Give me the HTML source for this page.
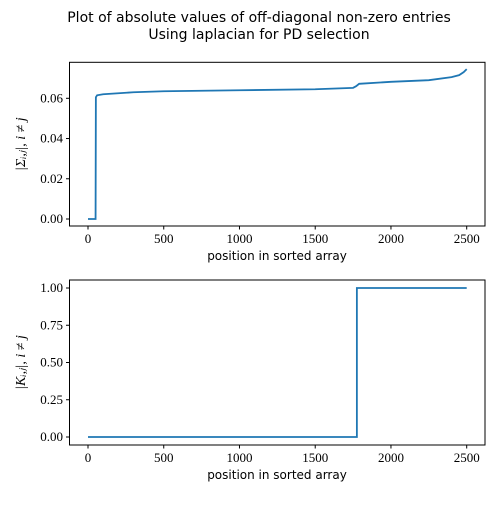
<!DOCTYPE html>
<html><head><meta charset="utf-8"><style>
body{margin:0;background:#fff}
svg{font-family:"DejaVu Sans","Liberation Sans",sans-serif}
</style></head><body>
<svg id="c" width="500" height="500" viewBox="0 0 500 500">
<text x="259" y="22" font-size="14" text-anchor="middle">Plot of absolute values of off-diagonal non-zero entries</text>
<text x="259" y="39" font-size="14" text-anchor="middle">Using laplacian for PD selection</text>
</svg>
<script>
const topX=[0,50,52,60,100,300,500,1000,1500,1750,1770,1790,2000,2250,2400,2450,2480,2500];
const topY=[0,0,0.0605,0.0615,0.062,0.063,0.0635,0.064,0.0645,0.0652,0.066,0.0672,0.0682,0.069,0.0705,0.0715,0.073,0.0745];
const botX=[0,1775,1775,2500];
const botY=[0,0,1,1];
const xTicks=[0,500,1000,1500,2000,2500];
const topTicks=[0,0.02,0.04,0.06];
const topLabels=["0.00","0.02","0.04","0.06"];
const botTicks=[0,0.25,0.5,0.75,1];
const botLabels=["0.00","0.25","0.50","0.75","1.00"];
const svg=document.getElementById('c');
const NS='http://www.w3.org/2000/svg';
function mk(t,a){const e=document.createElementNS(NS,t);for(const k in a)e.setAttribute(k,a[k]);svg.appendChild(e);return e;}
const sx=v=>88+v*(466.7-88)/2500;
function panel(pfx,top,bot,ys,xs,ysv,yticks,ylabels,ylabelText){
  const r=mk('rect',{x:69.5,y:top,width:415.5,height:bot-top,fill:'none',stroke:'#000','stroke-width':1});
  
  
  xTicks.forEach(t=>{
    const l=mk('line',{x1:sx(t),x2:sx(t),y1:bot,y2:bot+3.5,stroke:'#000'});
    
    
    const tx=mk('text',{x:sx(t),y:bot+17,'font-size':13,'text-anchor':'middle','font-family':'Liberation Serif,serif'});
    tx.textContent=t;
    
    
  });
  yticks.forEach((t,i)=>{
    const y=ys(t);
    const l=mk('line',{x1:66,x2:69.5,y1:y,y2:y,stroke:'#000'});
    
    
    const tx=mk('text',{x:63,y:y+4,'font-size':13,'text-anchor':'end','font-family':'Liberation Serif,serif'});
    tx.textContent=ylabels[i];
    
    
  });
  const xl=mk('text',{x:277,y:bot+34,'font-size':12,'text-anchor':'middle'});
  xl.textContent='position in sorted array';
  
  
  const cy=(top+bot)/2;
  const yl=mk('text',{x:0,y:0,'font-size':14,'text-anchor':'middle','font-style':'italic','font-family':'Liberation Serif,serif',transform:`translate(25,${cy}) rotate(-90)`});
  yl.textContent=ylabelText;
  
  
  const p=mk('path',{d:xs.map((x,i)=>(i?'L':'M')+sx(x)+','+ys(ysv[i])).join(''),fill:'none',stroke:'#1f77b4','stroke-width':1.8});
  
  
}
panel('top',62.3,226,v=>219-v*(219-98.3)/0.06,topX,topY,topTicks,topLabels,'|Σᵢ,ⱼ|, i ≠ j');
panel('bottom',280,445,v=>437-v*(437-288),botX,botY,botTicks,botLabels,'|Kᵢ,ⱼ|, i ≠ j');
</script>
</body></html>
